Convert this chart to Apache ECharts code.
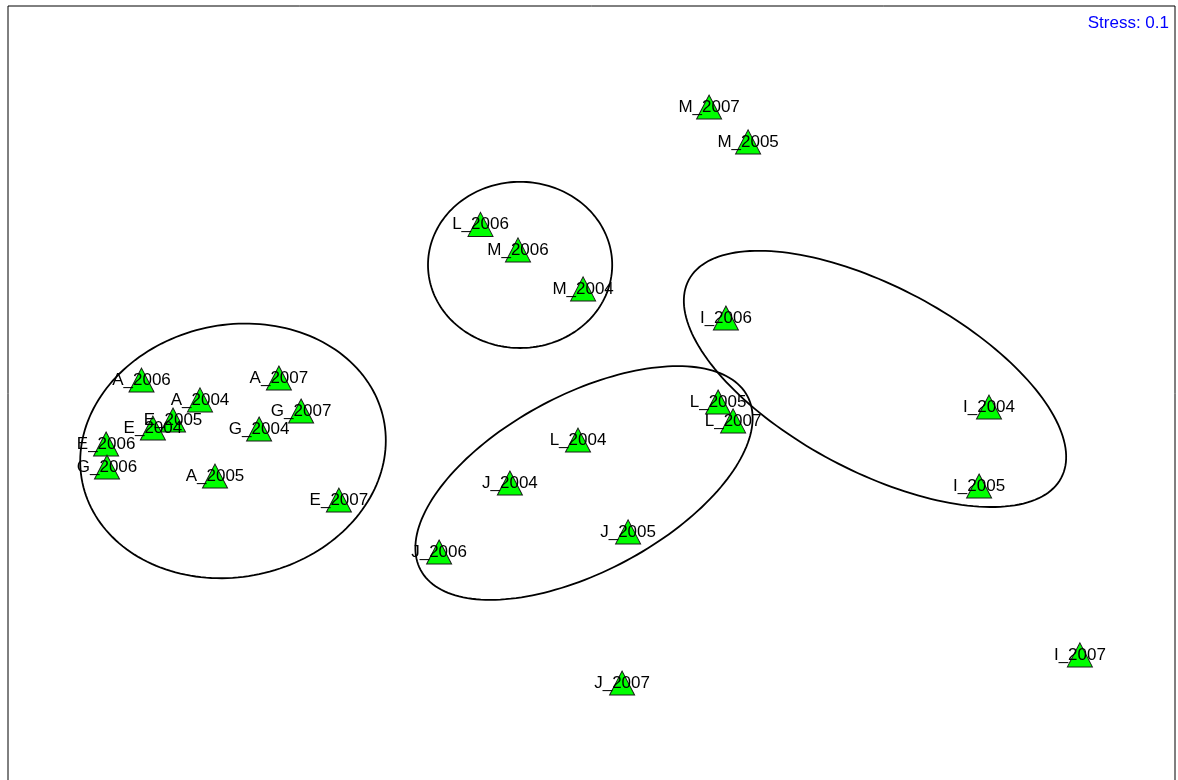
<!DOCTYPE html>
<html>
<head>
<meta charset="utf-8">
<script src="https://cdn.jsdelivr.net/npm/echarts@6/dist/echarts.min.js"></script>
<style>
  html, body { margin: 0; padding: 0; background: #ffffff; }
  #chart { width: 1178px; height: 780px; }
</style>
</head>
<body>
<div id="chart"></div>
<script>
// Samples (site_year) and their 2-D nMDS ordination scores
const sampleNames = [
  'M_2007', 'M_2005', 'L_2006', 'M_2006', 'M_2004', 'I_2006',
  'A_2006', 'A_2007', 'A_2004', 'G_2007', 'E_2005', 'E_2004',
  'G_2004', 'E_2006', 'G_2006', 'A_2005', 'E_2007', 'L_2005',
  'L_2007', 'L_2004', 'I_2004', 'J_2004', 'I_2005', 'J_2005',
  'J_2006', 'I_2007', 'J_2007'
];
const mds1 = [
  0.387, 0.517, -0.375, -0.250, -0.033, 0.443,
  -1.505, -1.047, -1.310, -0.973, -1.400, -1.467,
  -1.113, -1.623, -1.620, -1.260, -0.847, 0.417,
  0.467, -0.050, 1.320, -0.277, 1.287, 0.117,
  -0.513, 1.623, 0.097
];
const mds2 = [
  0.963, 0.847, 0.572, 0.487, 0.357, 0.260,
  0.053, 0.060, -0.013, -0.050, -0.080, -0.107,
  -0.110, -0.160, -0.237, -0.267, -0.347, -0.020,
  -0.083, -0.147, -0.037, -0.290, -0.300, -0.453,
  -0.520, -0.863, -0.957
];

// Cluster outlines: centre, semi-axes and tilt (degrees) in ordination units
const clusterCentreX = [-1.200, -0.243, -0.030, 0.940];
const clusterCentreY = [-0.183, 0.437, -0.290, 0.057];
const clusterSemiMajor = [0.513, 0.307, 0.617, 0.703];
const clusterSemiMinor = [0.420, 0.277, 0.295, 0.307];
const clusterTilt = [12, 0, 28, -28];

const stressText = 'Stress: 0.1';

const points = sampleNames.map((n, i) => ({ name: n, value: [mds1[i], mds2[i]] }));
const clusters = clusterCentreX.map((cx, i) => [cx, clusterCentreY[i], clusterSemiMajor[i], clusterSemiMinor[i], clusterTilt[i]]);

const chart = echarts.init(document.getElementById('chart'), null, { renderer: 'canvas' });

chart.setOption({
  animation: false,
  backgroundColor: '#ffffff',
  grid: {
    show: true,
    left: 8,
    top: 6,
    width: 1167,
    height: 780,
    outerBoundsMode: 'none',
    containLabel: false,
    borderColor: '#000000',
    borderWidth: 1,
    backgroundColor: 'transparent'
  },
  xAxis: {
    type: 'value', min: -1.95, max: 1.94, show: false, splitLine: { show: false }
  },
  yAxis: {
    type: 'value', min: -1.3, max: 1.3, show: false, splitLine: { show: false }
  },
  graphic: [{
    type: 'text',
    right: 9,
    top: 15,
    style: {
      text: stressText,
      fill: '#0000ff',
      font: '17px "Liberation Sans", Arial, sans-serif'
    }
  }],
  series: [
    {
      type: 'custom',
      coordinateSystem: 'cartesian2d',
      data: clusters,
      encode: { x: 0, y: 1 },
      silent: true,
      z: 1,
      clip: false,
      renderItem: function (params, api) {
        const cx = api.value(0), cy = api.value(1);
        const a = api.value(2), b = api.value(3);
        const ang = api.value(4) * Math.PI / 180;
        const pts = [];
        const steps = 180;
        for (let k = 0; k < steps; k++) {
          const t = k / steps * 2 * Math.PI;
          const ex = a * Math.cos(t), ey = b * Math.sin(t);
          pts.push(api.coord([
            cx + ex * Math.cos(ang) - ey * Math.sin(ang),
            cy + ex * Math.sin(ang) + ey * Math.cos(ang)
          ]));
        }
        return {
          type: 'polygon',
          shape: { points: pts },
          style: { fill: 'none', stroke: '#000000', lineWidth: 1.8 }
        };
      }
    },
    {
      type: 'scatter',
      data: points,
      symbol: 'triangle',
      symbolSize: [25, 24],
      z: 2,
      itemStyle: { color: '#00ff00', borderColor: '#1a1a1a', borderWidth: 1, opacity: 1 },
      label: {
        show: true,
        position: 'inside',
        offset: [0, 3],
        formatter: '{b}',
        color: '#000000',
        fontSize: 17,
        fontFamily: '"Liberation Sans", Arial, sans-serif'
      },
      emphasis: { disabled: true },
      labelLayout: { hideOverlap: false }
    }
  ]
});
</script>
</body>
</html>
